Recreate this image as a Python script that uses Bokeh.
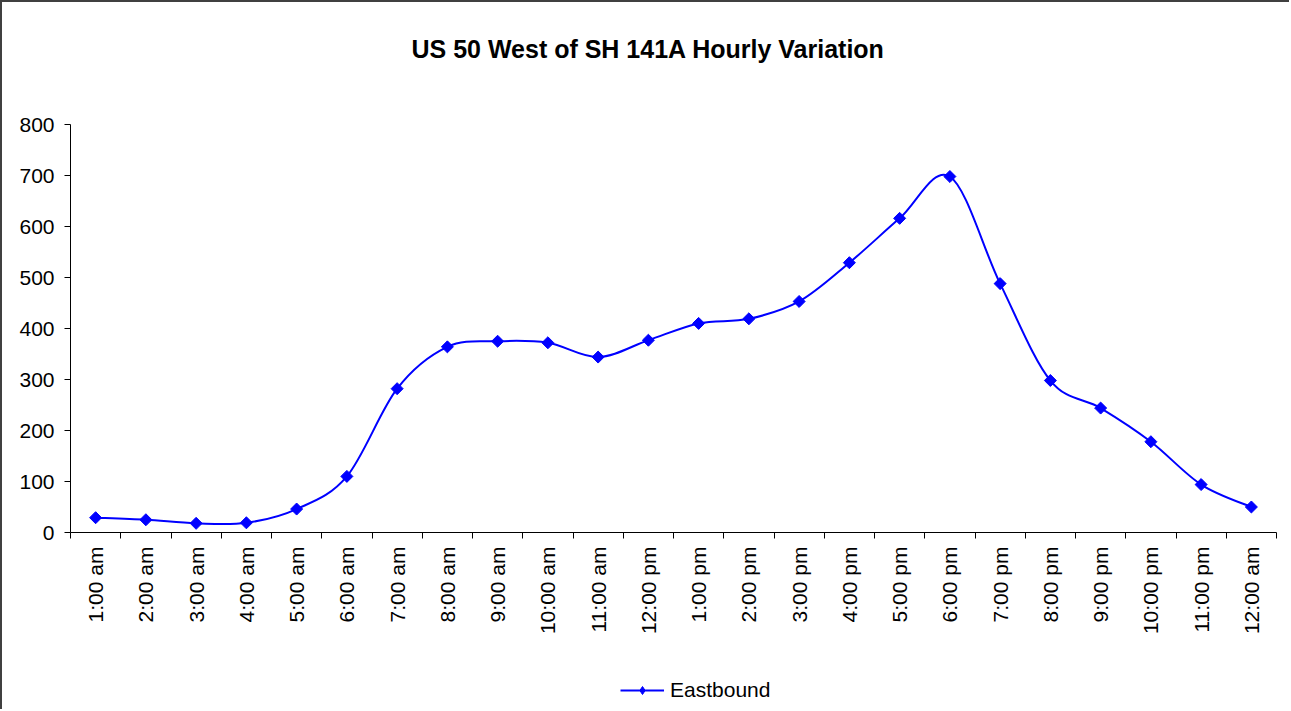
import numpy as np
from bokeh.plotting import figure
from bokeh.layouts import column
from bokeh.models import FixedTicker, Legend, LegendItem, Range1d, Title
from bokeh.embed import file_html
from bokeh.resources import INLINE

hours = ["1:00 am", "2:00 am", "3:00 am", "4:00 am", "5:00 am", "6:00 am",
         "7:00 am", "8:00 am", "9:00 am", "10:00 am", "11:00 am", "12:00 pm",
         "1:00 pm", "2:00 pm", "3:00 pm", "4:00 pm", "5:00 pm", "6:00 pm",
         "7:00 pm", "8:00 pm", "9:00 pm", "10:00 pm", "11:00 pm", "12:00 am"]
eastbound = [29, 25, 18, 19, 46, 110, 282, 364, 375, 372, 344, 377,
             410, 419, 453, 529, 616, 698, 488, 298, 244, 178, 94, 50]
y_ticks = [0, 100, 200, 300, 400, 500, 600, 700, 800]
title_text = "US 50 West of SH 141A Hourly Variation"
series_name = "Eastbound"

FONT = "Liberation Sans"
BLUE = "#0000FF"
BORDER = "2px solid #404040"

n = len(hours)
xs = np.arange(n) + 0.5
ys = np.array(eastbound, dtype=float)

# Catmull-Rom style smoothing (like a spreadsheet "smoothed line") via Bezier glyphs
xp = np.concatenate([[xs[0]], xs, [xs[-1]]])
yp = np.concatenate([[ys[0]], ys, [ys[-1]]])
x0 = xs[:-1]; y0 = ys[:-1]; x1 = xs[1:]; y1 = ys[1:]
cx0 = xp[1:-2] + (xp[2:-1] - xp[0:-3]) / 6.0
cy0 = yp[1:-2] + (yp[2:-1] - yp[0:-3]) / 6.0
cx1 = xp[2:-1] - (xp[3:] - xp[1:-2]) / 6.0
cy1 = yp[2:-1] - (yp[3:] - yp[1:-2]) / 6.0

# ---------------- main chart ----------------
p = figure(width=1289, height=649, output_backend="svg", toolbar_location=None,
           title=None,
           x_range=Range1d(0, n), y_range=Range1d(0, 800),
           min_border_left=68, min_border_right=15, min_border_top=122,
           min_border_bottom=119)
p.styles = {"border-left": BORDER, "border-top": BORDER}
p.outline_line_color = None
p.xgrid.visible = False
p.ygrid.visible = False
p.background_fill_color = "white"
p.border_fill_color = "white"

spacer = Title(text=" ", text_font=FONT, text_font_size="10px", standoff=44)
main_title = Title(text=title_text, text_font=FONT, text_font_size="25px",
                   text_font_style="bold", text_color="black",
                   align="left", offset=341, standoff=10)
p.add_layout(spacer, "above")
p.add_layout(main_title, "above")

p.bezier(x0=x0, y0=y0, x1=x1, y1=y1, cx0=cx0, cy0=cy0, cx1=cx1, cy1=cy1,
         line_color=BLUE, line_width=2)
p.scatter(xs, ys, marker="square", size=8.5, angle=np.pi / 4,
          fill_color=BLUE, line_color=BLUE, line_width=1)

xa = p.xaxis[0]
xa.ticker = FixedTicker(ticks=list(xs), minor_ticks=list(range(n + 1)))
xa.major_label_overrides = {float(x): h for x, h in zip(xs, hours)}
xa.major_label_orientation = np.pi / 2
xa.major_tick_out = 0
xa.major_tick_in = 0
xa.minor_tick_out = 6
xa.minor_tick_in = 0
xa.major_label_standoff = 8

ya = p.yaxis[0]
ya.ticker = FixedTicker(ticks=y_ticks)
ya.major_tick_out = 6
ya.major_tick_in = 0
ya.minor_tick_out = 0
ya.minor_tick_in = 0
ya.major_label_standoff = 10

for ax in (xa, ya):
    ax.axis_line_color = "black"
    ax.major_tick_line_color = "black"
    ax.minor_tick_line_color = "black"
    ax.major_label_text_font = FONT
    ax.major_label_text_font_size = "21px"
    ax.major_label_text_color = "black"

# ---------------- legend strip ----------------
pl = figure(width=1289, height=60, output_backend="svg", toolbar_location=None,
            x_range=Range1d(0, n), y_range=Range1d(0, 800),
            min_border_left=0, min_border_right=0, min_border_top=0,
            min_border_bottom=0)
pl.styles = {"border-left": BORDER}
pl.axis.visible = False
pl.grid.visible = False
pl.outline_line_color = None
pl.background_fill_color = "white"
pl.border_fill_color = "white"

lg_line = pl.line(xs[:2], ys[:2], line_color=BLUE, line_width=2, visible=False)
lg_mark = pl.scatter(xs[:1], ys[:1], marker="diamond", size=13,
                     fill_color=BLUE, line_color=BLUE, visible=False)

legend = Legend(items=[LegendItem(label=series_name, renderers=[lg_line, lg_mark])],
                location=(550, 7), orientation="horizontal",
                border_line_color=None, background_fill_alpha=0,
                padding=0, margin=0, glyph_width=44, glyph_height=20,
                label_standoff=6, label_text_font=FONT,
                label_text_font_size="21px", label_text_color="black")
pl.add_layout(legend, "center")

layout = column(p, pl, spacing=0)
open("out.html", "w").write(file_html(layout, INLINE))
